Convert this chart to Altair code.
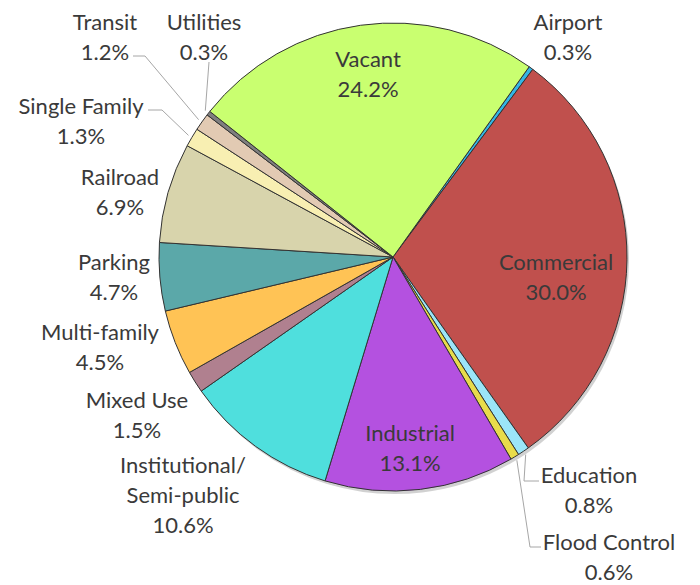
import math
import altair as alt
import pandas as pd

# ---- data ----
categories = ["Airport", "Commercial", "Education", "Flood Control", "Industrial",
              "Institutional/Semi-public", "Mixed Use", "Multi-family", "Parking",
              "Railroad", "Single Family", "Transit", "Utilities", "Vacant"]
shares = [0.3, 30.0, 0.8, 0.6, 13.1, 10.6, 1.5, 4.5, 4.7, 6.9, 1.3, 1.2, 0.3, 24.2]
colors = ["#33B5E5", "#C0504D", "#9BE5F8", "#E8DC4A", "#B451E0",
          "#4FDFDD", "#B0808F", "#FFC355", "#5BA8A9", "#D8D4AC",
          "#F8EFB2", "#E2CAB3", "#7F7F7F", "#C9FF70"]

# ---- layout (page pixels) ----
OFF = 8
CX, CY, R = 393 - OFF, 257 - OFF, 234
START = math.radians(35.6)
LH = 30
label_pos = {  # centre of the label block
    "Airport": (568, 37), "Commercial": (556, 277), "Education": (589, 490),
    "Flood Control": (609, 557), "Industrial": (410, 448),
    "Institutional/Semi-public": (183, 495), "Mixed Use": (137, 415),
    "Multi-family": (100, 347), "Parking": (114, 277), "Railroad": (120, 192),
    "Single Family": (81, 121), "Transit": (105, 37), "Utilities": (204, 37),
    "Vacant": (368, 74),
}
leaders = {  # (elbow, end) in page pixels
    "Transit": ((145, 56), (133, 56)),
    "Utilities": ((209, 62), (209, 62)),
    "Single Family": ((162, 110), (148, 110)),
    "Education": ((524, 481), (539, 481)),
    "Flood Control": ((530, 547), (541, 547)),
}

df = pd.DataFrame({"category": categories, "share": shares, "idx": range(len(categories))})

total = sum(shares)
mids = {}
cum = 0.0
for c, v in zip(categories, shares):
    mids[c] = START + 2 * math.pi * (cum + v / 2) / total
    cum += v

texts = [c.replace("/", "/\n") + "\n" + f"{v:.1f}%" for c, v in zip(categories, shares)]
lab = pd.DataFrame({
    "category": categories,
    "text": texts,
    "lx": [label_pos[c][0] - OFF for c in categories],
    "ly": [label_pos[c][1] - OFF - (t.count("\n")) * LH / 2 + 1 for c, t in zip(categories, texts)],
})

rows = []
for c, (elbow, end) in leaders.items():
    a = mids[c]
    rr = R + 4
    pts = [(CX + rr * math.sin(a), CY - rr * math.cos(a)),
           (elbow[0] - OFF, elbow[1] - OFF), (end[0] - OFF, end[1] - OFF)]
    for i, (x, y) in enumerate(pts):
        rows.append({"category": c, "k": i, "x": x, "y": y})
lead = pd.DataFrame(rows)

theta = alt.Theta("share:Q", stack=True,
                  scale=alt.Scale(domain=[0, 100], range=[START, START + 2 * math.pi]))

shadow = alt.Chart(df).mark_arc(radius=R, fill="#000000", opacity=0.18).encode(
    theta=theta, order=alt.Order("idx:Q"),
    x=alt.value(CX + 2), y=alt.value(CY + 3))

pie = alt.Chart(df).mark_arc(radius=R, stroke="#333333", strokeWidth=1).encode(
    theta=theta,
    color=alt.Color("category:N", scale=alt.Scale(domain=categories, range=colors), legend=None),
    order=alt.Order("idx:Q"),
    x=alt.value(CX), y=alt.value(CY),
)

lines = alt.Chart(lead).mark_line(color="#A6A6A6", strokeWidth=1).encode(
    x=alt.X("x:Q", scale=None), y=alt.Y("y:Q", scale=None),
    detail="category:N", order="k:Q")

labels = alt.Chart(lab).mark_text(
    font="Lato", fontSize=22, color="#3A3A3A", align="center", baseline="middle",
    lineBreak="\n", lineHeight=LH,
).encode(x=alt.X("lx:Q", scale=None), y=alt.Y("ly:Q", scale=None), text="text:N")

chart = alt.layer(shadow, pie, lines, labels).properties(
    width=684, height=577, autosize="none", padding=0,
).configure_view(stroke=None)

chart.save("out.html", embed_options={"renderer": "svg", "actions": False})
